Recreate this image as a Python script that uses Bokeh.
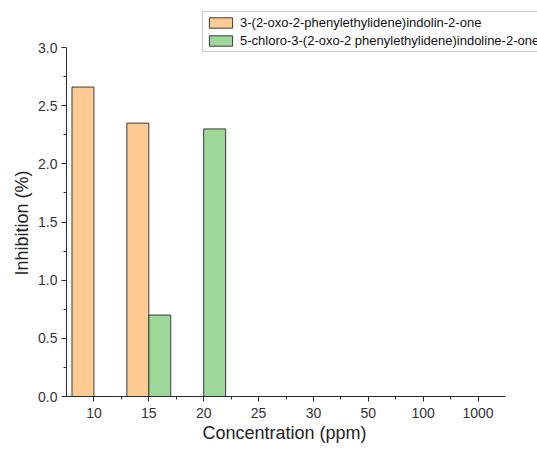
from bokeh.plotting import figure
from bokeh.models import Range1d, FixedTicker, Legend, LegendItem, Title
from bokeh.embed import file_html
from bokeh.resources import INLINE

categories = ["10", "15", "20", "25", "30", "50", "100", "1000"]
compound_a = [2.66, 2.35, 0, 0, 0, 0, 0, 0]
compound_b = [0, 0.70, 2.30, 0, 0, 0, 0, 0]
name_a = "3-(2-oxo-2-phenylethylidene)indolin-2-one"
name_b = "5-chloro-3-(2-oxo-2 phenylethylidene)indoline-2-one"
x_title = "Concentration (ppm)"
y_title = "Inhibition (%)"
y_ticks = [0.0, 0.5, 1.0, 1.5, 2.0, 2.5, 3.0]

W, H = 537, 451
left, bottom = 66, 55
frame_w, frame_h = W - left, H - bottom
n = len(categories)
# axes span 439 px (x: -0.5 .. n-0.5) and 349 px (y: 0 .. 3); frame reaches the page edge
x_end = -0.5 + n * frame_w / 439.0
y_end = 3.0 * frame_h / 349.0

idx = list(range(n))
xa = [i - 0.2 for i in idx]
xb = [i + 0.2 for i in idx]

p = figure(width=W, height=H, output_backend="svg", toolbar_location=None,
           x_range=Range1d(-0.5, x_end), y_range=Range1d(0, y_end),
           min_border_left=left, min_border_top=0, min_border_bottom=bottom,
           min_border_right=0)
p.outline_line_color = None
p.grid.visible = False
p.background_fill_color = "white"
p.border_fill_color = "white"

ra = p.vbar(x=xa, top=compound_a, width=0.4, fill_color="#FECB92",
            line_color="#3a3a3a", line_width=1)
rb = p.vbar(x=xb, top=compound_b, width=0.4, fill_color="#9DD89A",
            line_color="#3a3a3a", line_width=1)

p.xaxis.ticker = FixedTicker(ticks=idx, minor_ticks=[i + 0.5 for i in idx[:-1]])
p.xaxis.major_label_overrides = {i: c for i, c in zip(idx, categories)}
p.xaxis.bounds = (-0.5, n - 0.5)
p.yaxis.ticker = FixedTicker(ticks=y_ticks, minor_ticks=[v + 0.25 for v in y_ticks[:-1]])
p.yaxis.bounds = (0, 3.0)
p.yaxis.major_label_overrides = {v: f"{v:.1f}" for v in y_ticks}

for ax in (p.xaxis, p.yaxis):
    ax.axis_line_color = "#2a2a2a"
    ax.major_tick_line_color = "#2a2a2a"
    ax.minor_tick_line_color = "#2a2a2a"
    ax.major_tick_out = 5
    ax.major_tick_in = 0
    ax.minor_tick_out = 3
    ax.minor_tick_in = 0
    ax.major_label_text_font = "Liberation Sans"
    ax.major_label_text_font_size = "14px"
    ax.major_label_text_color = "#333333"

p.xaxis.major_label_standoff = 6
p.yaxis.major_label_standoff = 4

# axis titles centred on the drawn axis spans (not on the extended frame)
xt = Title(text=x_title, align="left", offset=136, standoff=0,
           text_font="Liberation Sans", text_font_size="18px",
           text_font_style="normal", text_color="#222222")
p.add_layout(xt, "below")
yt = Title(text=y_title, align="left", offset=121, standoff=8,
           text_font="Liberation Sans", text_font_size="18px",
           text_font_style="normal", text_color="#222222")
p.add_layout(yt, "left")

legend = Legend(items=[LegendItem(label=name_a, renderers=[ra]),
                       LegendItem(label=name_b, renderers=[rb])],
                location=(136, 344))
legend.label_text_font = "Liberation Sans"
legend.label_text_font_size = "13px"
legend.label_text_color = "#111111"
legend.glyph_width = 29
legend.glyph_height = 13
legend.label_height = 13
legend.spacing = 3
legend.padding = 3
legend.margin = 0
legend.label_standoff = 5
legend.border_line_color = "#999999"
legend.border_line_width = 1
legend.background_fill_color = "white"
legend.background_fill_alpha = 1
p.add_layout(legend, "center")

open("out.html", "w").write(file_html(p, INLINE))
